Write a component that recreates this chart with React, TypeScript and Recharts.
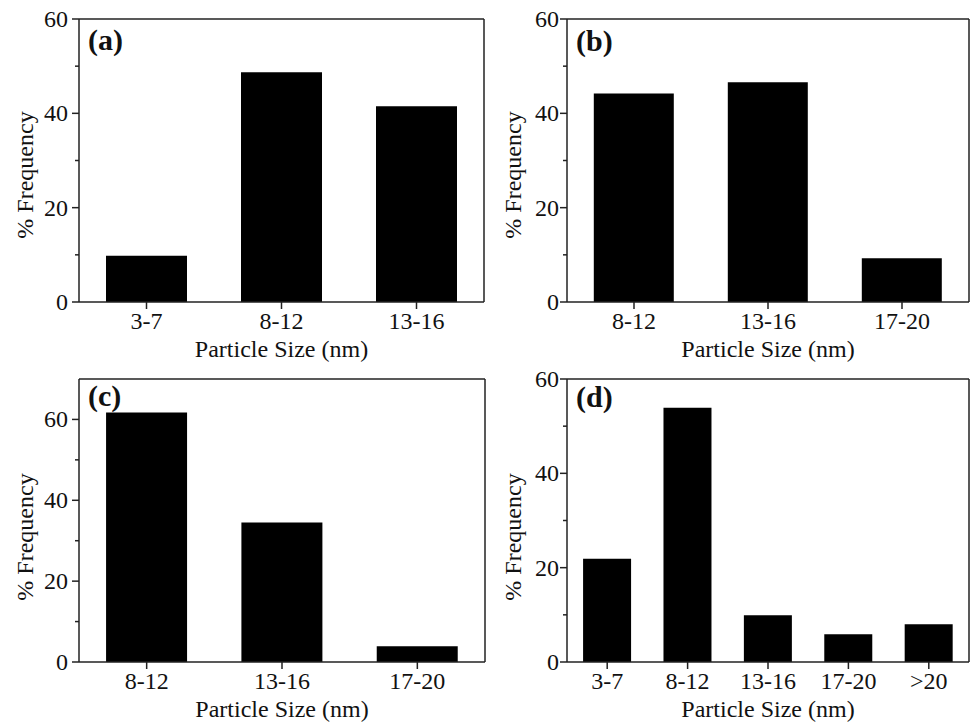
import { Bar, BarChart, XAxis, YAxis } from "recharts";

const INK = "#111";
const AXIS = "#222";
const FONT = "'Liberation Serif', 'Times New Roman', serif";

// particle size distributions
const sizesA = ["3-7", "8-12", "13-16"];
const freqA = [9.8, 48.7, 41.5];

const sizesB = ["8-12", "13-16", "17-20"];
const freqB = [44.2, 46.6, 9.3];

const sizesC = ["8-12", "13-16", "17-20"];
const freqC = [61.7, 34.5, 3.9];

const sizesD = ["3-7", "8-12", "13-16", "17-20", ">20"];
const freqD = [21.9, 53.9, 9.9, 5.9, 8.0];

const majorTicks = [0, 20, 40, 60];
const yTicks = [0, 10, 20, 30, 40, 50, 60];

type Box = { x: number; y: number; w: number; h: number };
type Plot = { l: number; t: number; r: number; b: number };

const tickStyle = { fill: INK, fontSize: 24, fontFamily: FONT };
const line = { stroke: AXIS, strokeWidth: 1.5 };

function Panel({ tag, tagDy, sizes, freq, yMax, box, plot, yTickGap }: {
  tag: string;
  tagDy: number;
  sizes: string[];
  freq: number[];
  yMax: number;
  box: Box;
  plot: Plot;
  yTickGap: number;
}) {
  const data = sizes.map((s, i) => ({ size: s, freq: freq[i] }));
  const top = plot.t - box.y;
  const yW = plot.l - box.x;
  const right = box.x + box.w - plot.r;
  const xH = box.y + box.h - plot.b;
  const bottomY = plot.b - box.y;
  const midY = 175;
  const titleX = yW - 54;

  // left axis: long ticks with numbers at 0/20/40/60, short unlabelled ones between
  const yTick = (p: any) => {
    const v = p.payload.value;
    const major = majorTicks.includes(v);
    return (
      <g>
        <line x1={yW - (major ? 7 : 4)} x2={yW} y1={p.y} y2={p.y} {...line} />
        {major && (
          <text x={yW - 7 - yTickGap} y={p.y} textAnchor="end" dominantBaseline="central" {...tickStyle}>
            {v}
          </text>
        )}
      </g>
    );
  };

  return (
    <div style={{ position: "absolute", left: box.x, top: box.y }}>
      <BarChart
        width={box.w}
        height={box.h}
        data={data}
        margin={{ top, right, left: 0, bottom: 0 }}
        barCategoryGap="20%"
      >
        <XAxis
          dataKey="size"
          height={xH}
          tickSize={7}
          tickMargin={3}
          stroke={AXIS}
          axisLine={line}
          tickLine={line}
          tick={tickStyle}
          label={{
            content: () => (
              <g>
                <text x={yW + (box.w - yW - right) / 2} y={bottomY + 55} textAnchor="middle" {...tickStyle}>
                  Particle Size (nm)
                </text>
                <text x={yW + 9} y={top + tagDy} fill={INK} fontSize={30} fontWeight="bold" fontFamily={FONT}>
                  {tag}
                </text>
              </g>
            ),
          }}
        />
        <XAxis
          xAxisId="top"
          dataKey="size"
          orientation="top"
          mirror
          height={1}
          tick={false}
          tickLine={false}
          axisLine={line}
        />
        <YAxis
          type="number"
          domain={[0, yMax]}
          ticks={yTicks}
          interval={0}
          width={yW}
          tickLine={false}
          axisLine={line}
          tick={yTick}
          label={{
            content: () => (
              <text
                x={titleX}
                y={midY}
                transform={`rotate(-90 ${titleX} ${midY})`}
                textAnchor="middle"
                dominantBaseline="central"
                {...tickStyle}
              >
                % Frequency
              </text>
            ),
          }}
        />
        <YAxis
          yAxisId="right"
          orientation="right"
          mirror
          type="number"
          domain={[0, yMax]}
          width={1}
          tick={false}
          tickLine={false}
          axisLine={line}
        />
        <Bar dataKey="freq" fill="#000" isAnimationActive={false} />
      </BarChart>
    </div>
  );
}

export default function App() {
  return (
    <div style={{ position: "absolute", left: 0, top: 0, width: 974, height: 724, background: "#fff" }}>
      <Panel tag="(a)" tagDy={31} sizes={sizesA} freq={freqA} yMax={60} yTickGap={4}
        box={{ x: 0, y: 0, w: 487, h: 362 }} plot={{ l: 79, t: 19, r: 484, b: 302 }} />
      <Panel tag="(b)" tagDy={32} sizes={sizesB} freq={freqB} yMax={60} yTickGap={1}
        box={{ x: 487, y: 0, w: 487, h: 362 }} plot={{ l: 567, t: 19, r: 969, b: 302 }} />
      <Panel tag="(c)" tagDy={27} sizes={sizesC} freq={freqC} yMax={70} yTickGap={4}
        box={{ x: 0, y: 362, w: 487, h: 362 }} plot={{ l: 79, t: 379, r: 485, b: 662 }} />
      <Panel tag="(d)" tagDy={28} sizes={sizesD} freq={freqD} yMax={60} yTickGap={1}
        box={{ x: 487, y: 362, w: 487, h: 362 }} plot={{ l: 567, t: 379, r: 969, b: 662 }} />
    </div>
  );
}
